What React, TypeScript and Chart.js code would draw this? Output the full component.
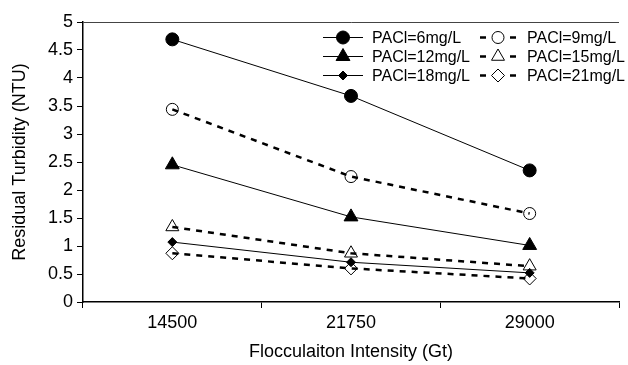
import React, { useEffect, useRef } from 'react';
import { Chart, registerables } from 'chart.js';

Chart.register(...registerables);

const categories = ['14500', '21750', '29000'];
const seriesNames = ['PACl=6mg/L', 'PACl=9mg/L', 'PACl=12mg/L', 'PACl=15mg/L', 'PACl=18mg/L', 'PACl=21mg/L'];
const pacl6 = [4.69, 3.68, 2.35];
const pacl9 = [3.44, 2.24, 1.58];
const pacl12 = [2.45, 1.52, 1.01];
const pacl15 = [1.34, 0.87, 0.64];
const pacl18 = [1.07, 0.71, 0.52];
const pacl21 = [0.87, 0.6, 0.42];
const yTickLabels = ['0', '0.5', '1', '1.5', '2', '2.5', '3', '3.5', '4', '4.5', '5'];

const FONT = '"Liberation Sans", Arial, sans-serif';
const AXIS_FONT = 18;
const LEGEND_FONT = 16;

type Marker = { style: 'circle' | 'triangle' | 'rectRot'; r: number; filled: boolean; dashed: boolean };
const markers: Marker[] = [
  { style: 'circle', r: 6.5, filled: true, dashed: false },
  { style: 'circle', r: 6, filled: false, dashed: true },
  { style: 'triangle', r: 8, filled: true, dashed: false },
  { style: 'triangle', r: 7.5, filled: false, dashed: true },
  { style: 'rectRot', r: 4.5, filled: true, dashed: false },
  { style: 'rectRot', r: 6.5, filled: false, dashed: true },
];
const seriesValues = [pacl6, pacl9, pacl12, pacl15, pacl18, pacl21];

function drawMarker(ctx: CanvasRenderingContext2D, m: Marker, x: number, y: number) {
  ctx.save();
  ctx.beginPath();
  if (m.style === 'circle') {
    ctx.arc(x, y, m.r, 0, Math.PI * 2);
  } else if (m.style === 'triangle') {
    let rad = 0;
    ctx.moveTo(x + Math.sin(rad) * m.r, y - Math.cos(rad) * m.r);
    rad += (2 * Math.PI) / 3;
    ctx.lineTo(x + Math.sin(rad) * m.r, y - Math.cos(rad) * m.r);
    rad += (2 * Math.PI) / 3;
    ctx.lineTo(x + Math.sin(rad) * m.r, y - Math.cos(rad) * m.r);
    ctx.closePath();
  } else {
    ctx.moveTo(x, y - m.r);
    ctx.lineTo(x + m.r, y);
    ctx.lineTo(x, y + m.r);
    ctx.lineTo(x - m.r, y);
    ctx.closePath();
  }
  if (m.filled) {
    ctx.fillStyle = '#000';
    ctx.fill();
  }
  ctx.strokeStyle = '#000';
  ctx.lineWidth = 1;
  ctx.setLineDash([]);
  ctx.stroke();
  ctx.restore();
}

const legendPlugin = {
  id: 'customLegend',
  afterDraw(chart: any) {
    const ctx: CanvasRenderingContext2D = chart.ctx;
    const rows = [37.5, 56.5, 75.5];
    ctx.save();
    ctx.font = `${LEGEND_FONT}px ${FONT}`;
    ctx.fillStyle = '#000';
    ctx.textBaseline = 'middle';
    ctx.textAlign = 'left';
    seriesNames.forEach((name, i) => {
      const col = i % 2;
      const row = Math.floor(i / 2);
      const y = rows[row];
      const m = markers[i];
      ctx.strokeStyle = '#000';
      if (col === 0) {
        ctx.lineWidth = 1;
        ctx.beginPath();
        ctx.moveTo(323, y);
        ctx.lineTo(363, y);
        ctx.stroke();
        drawMarker(ctx, m, 343, y);
        ctx.fillStyle = '#000';
        ctx.fillText(name, 372, y + 1);
      } else {
        ctx.lineWidth = 2.5;
        ctx.beginPath();
        ctx.moveTo(480, y);
        ctx.lineTo(486, y);
        ctx.moveTo(510, y);
        ctx.lineTo(516, y);
        ctx.stroke();
        drawMarker(ctx, m, 498, y);
        ctx.fillStyle = '#000';
        ctx.fillText(name, 527, y + 1);
      }
    });
    ctx.restore();
  },
};

export default function App() {
  const ref = useRef<HTMLCanvasElement | null>(null);
  useEffect(() => {
    document.body.style.margin = '0';
    if (!ref.current) return;
    Chart.defaults.color = '#000';
    const datasets = seriesNames.map((name, i) => {
      const m = markers[i];
      return {
        label: name,
        data: seriesValues[i],
        borderColor: '#000',
        borderWidth: m.dashed ? 2.5 : 1,
        borderDash: m.dashed ? [6, 6] : [],
        pointStyle: m.style,
        pointRadius: m.r,
        pointHoverRadius: m.r,
        pointBackgroundColor: m.filled ? '#000' : 'rgba(0,0,0,0)',
        pointBorderColor: '#000',
        pointBorderWidth: 1,
        fill: false,
        tension: 0,
      };
    });
    const chart = new Chart(ref.current, {
      type: 'line',
      data: { labels: categories, datasets },
      options: {
        responsive: false,
        animation: false,
        layout: { padding: { top: 22, right: 0, bottom: 0, left: 0 } },
        plugins: { legend: { display: false }, tooltip: { enabled: false } },
        scales: {
          x: {
            type: 'category',
            offset: true,
            grid: { offset: true, drawOnChartArea: false, tickLength: 6, color: '#000' },
            border: { color: '#000', width: 1.5 },
            ticks: { font: { family: FONT, size: AXIS_FONT }, color: '#000', padding: 4 },
            title: {
              display: true,
              text: 'Flocculaiton Intensity (Gt)',
              font: { family: FONT, size: AXIS_FONT },
              color: '#000',
              padding: { top: 0, bottom: 2 },
            },
            afterFit: (s: any) => {
              s.height = 63;
            },
          },
          y: {
            min: 0,
            max: 5,
            ticks: {
              stepSize: 0.5,
              font: { family: FONT, size: AXIS_FONT },
              color: '#000',
              padding: 4,
              callback: (_v: any, idx: number) => yTickLabels[idx],
            },
            grid: {
              drawOnChartArea: true,
              tickLength: 6,
              color: (c: any) => (c.tick && c.tick.value === 5 ? '#444' : 'rgba(0,0,0,0)'),
              tickColor: '#000',
            },
            border: { color: '#000', width: 1.5 },
            title: {
              display: true,
              text: 'Residual Turbidity (NTU)',
              font: { family: FONT, size: AXIS_FONT },
              color: '#000',
              padding: { top: 9, bottom: 0 },
            },
            afterFit: (s: any) => {
              s.width = 83;
            },
          },
        },
      },
      plugins: [legendPlugin],
    });
    return () => chart.destroy();
  }, []);
  return <canvas ref={ref} width={628} height={365} style={{ display: 'block' }} />;
}
